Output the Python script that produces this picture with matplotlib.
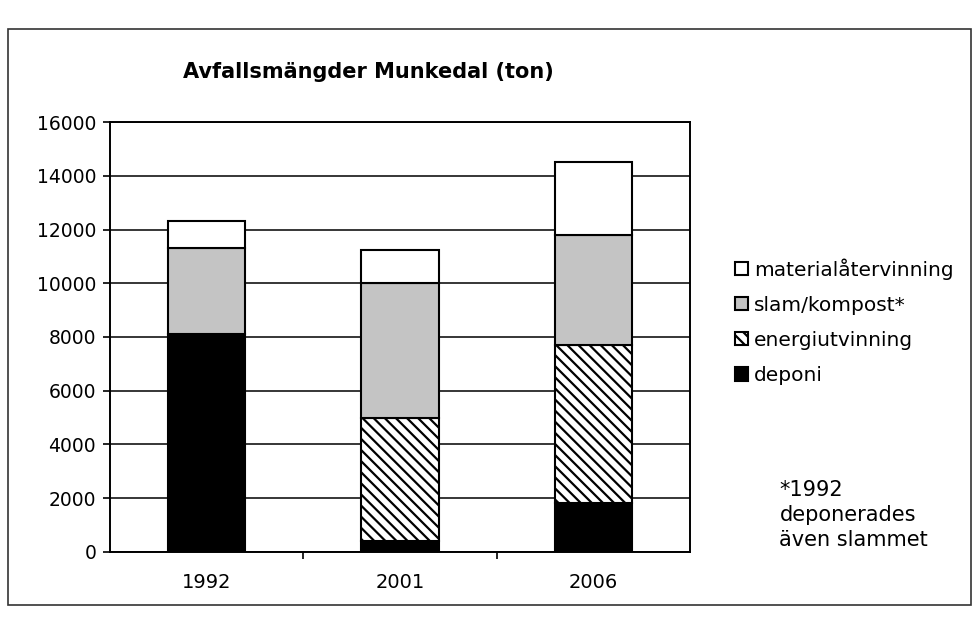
import matplotlib.pyplot as plt
import matplotlib.patches as patches
import numpy as np

plt.rcParams['font.family'] = ['DejaVu Sans']
plt.rcParams['hatch.linewidth'] = 1.6

years = ['1992', '2001', '2006']
deponi = [8100, 400, 1800]
energiutvinning = [0, 4600, 5900]
slam_kompost = [3200, 5000, 4100]
materialatervinning = [1000, 1250, 2700]
yticks = [0, 2000, 4000, 6000, 8000, 10000, 12000, 14000, 16000]

fig = plt.figure(figsize=(9.78, 6.2), dpi=100)
ax = fig.add_axes([0.1125, 0.11, 0.593, 0.693])

x = np.arange(len(years))
w = 0.4
bottom = np.zeros(len(years))
series = [
    (deponi, 'deponi', dict(color='black', edgecolor='black')),
    (energiutvinning, 'energiutvinning', dict(color='white', edgecolor='black', hatch='\\\\\\')),
    (slam_kompost, 'slam/kompost*', dict(color='#c4c4c4', edgecolor='black', hatch='')),
    (materialatervinning, 'materialåtervinning', dict(color='white', edgecolor='black')),
]
handles = []
for vals, label, style in series:
    vals = np.array(vals, dtype=float)
    b = ax.bar(x, vals, w, bottom=bottom, linewidth=1.5, label=label, zorder=3, **style)
    handles.append(b)
    bottom += vals

ax.set_xlim(-0.5, 2.5)
ax.set_ylim(0, 16000)
ax.set_yticks(yticks)
ax.set_yticklabels([str(v) for v in yticks], fontsize=13.5)
ax.yaxis.grid(True, color='black', linewidth=1.1, zorder=0)
ax.set_xticks(x)
ax.set_xticklabels(years, fontsize=14)
ax.tick_params(axis='x', length=0, pad=15)
ax.set_xticks([0.5, 1.5], minor=True)
ax.tick_params(axis='x', which='minor', length=5, width=1.2, direction='out')
ax.tick_params(axis='y', length=5, width=1.2, direction='out', pad=5)
for s in ax.spines.values():
    s.set_linewidth(1.4)

fig.text(0.187, 0.875, 'Avfallsmängder Munkedal (ton)', fontsize=15, fontweight='bold')

leg = fig.legend(handles[::-1], [h.get_label() for h in handles[::-1]],
                 loc='upper left', bbox_to_anchor=(0.741, 0.6), frameon=False,
                 fontsize=14.5, handlelength=0.65, handleheight=0.65, handletextpad=0.3,
                 labelspacing=0.8, borderpad=0)

fig.text(0.797, 0.225, '*1992\ndeponerades\näven slammet', fontsize=15,
         linespacing=1.3, va='top')

frame = patches.Rectangle((0.008, 0.025), 0.985, 0.928, transform=fig.transFigure,
                          fill=False, edgecolor='#333333', linewidth=1.2)
fig.patches.append(frame)

fig.savefig('out.png', dpi=100, facecolor='white')
